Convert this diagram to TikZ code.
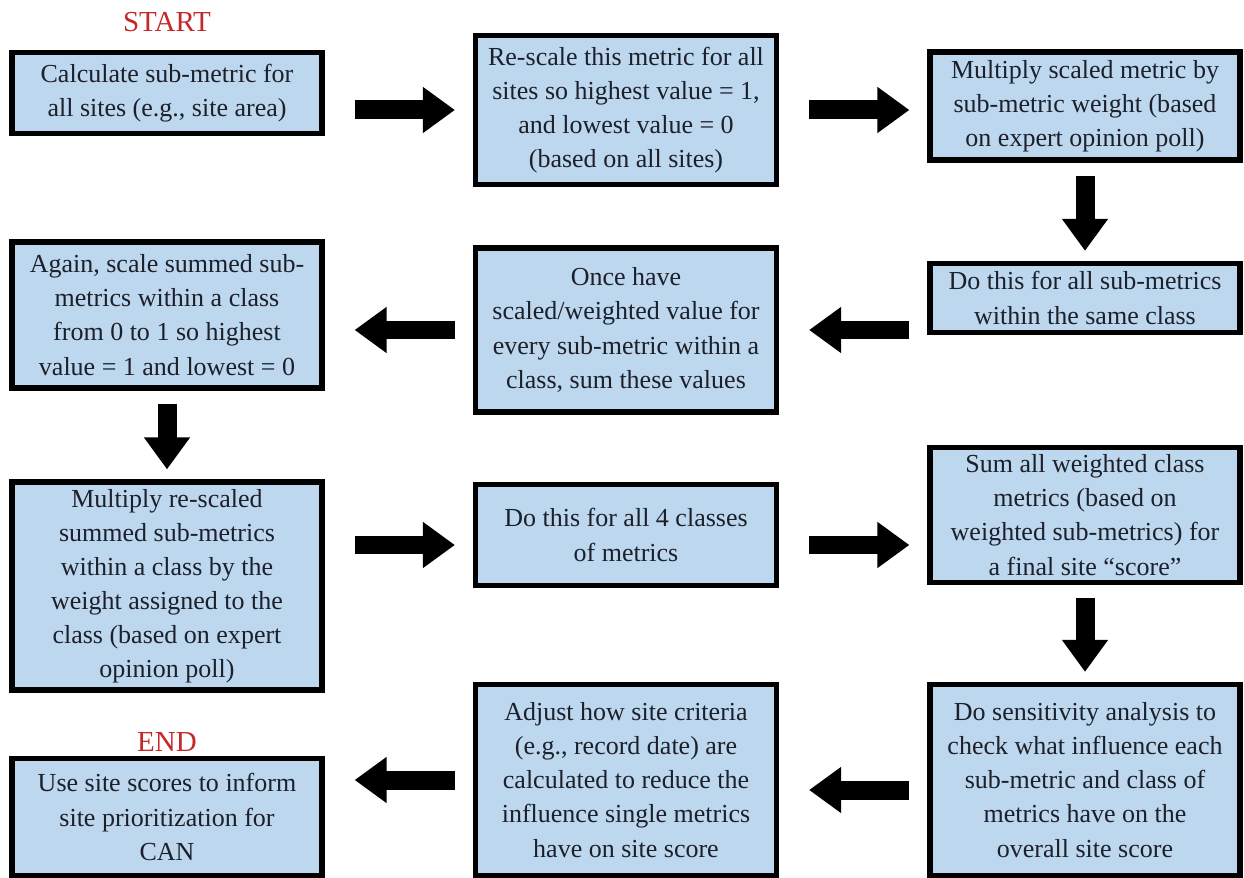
\documentclass[tikz,border=0pt]{standalone}
\usepackage{fontspec}
\setmainfont{Liberation Serif}
\usepackage{tikz}
\usetikzlibrary{arrows.meta,positioning}
\usepackage{xcolor}

\definecolor{boxblue}{RGB}{189,215,238}
\definecolor{textdark}{RGB}{28,32,42}
\definecolor{startred}{RGB}{196,40,40}

\begin{document}
\begin{tikzpicture}[
        x=0.02cm, y=-0.02cm,
        every node/.style={font=\fontsize{14.8}{19.4}\selectfont, text=textdark},
        box/.style={draw=black, line width=3pt, fill=boxblue, align=center,
                    inner sep=0pt, minimum width=6.2cm},
        tag/.style={font=\fontsize{16.5}{20}\selectfont, text=startred},
        flow/.style={line width=0.38cm, draw=black,
                     -{Triangle[length=0.64cm, width=0.88cm]}},
        rarrow/.style={flow, shorten <=0.6cm, shorten >=0.36cm},
        larrow/.style={flow, shorten <=0.36cm, shorten >=0.6cm},
        darrow/.style={flow, shorten <=0.26cm, shorten >=0.2cm}
    ]
        \useasboundingbox (0,0) rectangle (1244,878);

        % first row
        \node[tag] (start) at (167,22) {START};
        \node[box, minimum height=1.62cm] (calc) at (167,93)
            {Calculate sub-metric for\\all sites (e.g., site area)};
        \node[box, minimum height=2.98cm, minimum width=6.02cm] (rescale) at (626,110)
            {Re-scale this metric for all\\sites so highest value = 1,\\and lowest value = 0\\(based on all sites)};
        \node[box, minimum height=2.16cm] (weight) at (1085,106)
            {Multiply scaled metric by\\sub-metric weight (based\\on expert opinion poll)};

        % second row
        \node[box, minimum height=1.38cm] (allsub) at (1085,298)
            {Do this for all sub-metrics\\within the same class};
        \node[box, minimum height=3.28cm, minimum width=6.02cm] (sum) at (626,330)
            {Once have\\scaled/weighted value for\\every sub-metric within a\\class, sum these values};
        \node[box, minimum height=2.92cm] (again) at (167,315)
            {Again, scale summed sub-\\metrics within a class\\from 0 to 1 so highest\\value = 1 and lowest = 0};

        % third row
        \node[box, minimum height=4.16cm] (classw) at (167,586)
            {Multiply re-scaled\\summed sub-metrics\\within a class by the\\weight assigned to the\\class (based on expert\\opinion poll)};
        \node[box, minimum height=2.02cm, minimum width=6.02cm] (allclass) at (626,535)
            {Do this for all 4 classes\\of metrics};
        \node[box, minimum height=2.7cm] (final) at (1085,515)
            {Sum all weighted class\\metrics (based on\\weighted sub-metrics) for\\a final site “score”};

        % last row
        \node[box, minimum height=3.82cm] (sens) at (1085,780)
            {Do sensitivity analysis to\\check what influence each\\sub-metric and class of\\metrics have on the\\overall site score};
        \node[box, minimum height=3.82cm, minimum width=6.02cm] (adjust) at (626,780)
            {Adjust how site criteria\\(e.g., record date) are\\calculated to reduce the\\influence single metrics\\have on site score};
        \node[tag] (end) at (167,742) {END};
        \node[box, minimum height=2.34cm] (use) at (167,817)
            {Use site scores to inform\\site prioritization for\\CAN};

        \draw[rarrow] (calc.east |- rescale.west) -- (rescale.west);
        \draw[rarrow] (rescale.east) -- (rescale.east -| weight.west);
        \draw[darrow] (weight.south) -- (allsub.north);
        \draw[larrow] (allsub.west |- sum.east) -- (sum.east);
        \draw[larrow] (sum.west) -- (sum.west -| again.east);
        \draw[darrow] (again.south) -- (classw.north);
        \draw[rarrow] ([yshift=-0.2cm]classw.east |- allclass.west) -- ([yshift=-0.2cm]allclass.west);
        \draw[rarrow] ([yshift=-0.2cm]allclass.east) -- ([yshift=-0.2cm]allclass.east -| final.west);
        \draw[darrow] (final.south) -- (sens.north);
        \draw[larrow] ([yshift=-0.2cm]sens.west) -- ([yshift=-0.2cm]adjust.east);
        \draw[larrow] (adjust.west) -- (adjust.west -| use.east);
    \end{tikzpicture}
\end{document}
